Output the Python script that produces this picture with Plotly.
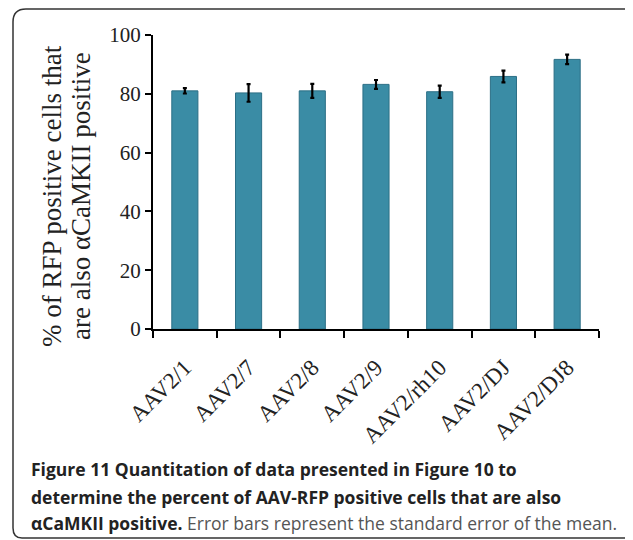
import plotly.graph_objects as go

categories = ["AAV2/1", "AAV2/7", "AAV2/8", "AAV2/9", "AAV2/rh10", "AAV2/DJ", "AAV2/DJ8"]
values = [81.0, 80.3, 81.0, 83.2, 80.7, 85.9, 91.7]
errors = [0.9, 3.0, 2.4, 1.5, 2.1, 2.0, 1.6]
y_ticks = [0, 20, 40, 60, 80, 100]

# page body has an 8px margin; figure is drawn at (8, 8)
OFF = 8
W, H = 633 - OFF, 540 - OFF
# plot area in page pixels: x 153..599, y 35..329
L, R, T, B = 153 - OFF, 633 - 599, 35 - OFF, 540 - 329
pw, ph = W - L - R, H - T - B

def px(x):
    return (x - OFF - L) / pw

def py(y):
    return (H - B - (y - OFF)) / ph

fig = go.Figure()
fig.add_trace(go.Bar(
    x=categories, y=values, width=0.41,
    marker=dict(color="#3A8CA5", line=dict(color="#2C6F86", width=1)),
    error_y=dict(type="data", array=errors, color="black", thickness=2.2, width=2),
    showlegend=False,
))

serif = "Liberation Serif"
fig.update_layout(
    width=W, height=H,
    margin=dict(l=L, r=R, t=T, b=B),
    paper_bgcolor="white", plot_bgcolor="white",
    xaxis=dict(
        range=[-0.5, 6.5], showline=True, linecolor="black", linewidth=2,
        ticks="outside", tickson="boundaries", ticklen=7, tickwidth=2, tickcolor="black",
        tickangle=-45, tickfont=dict(family=serif, size=23, color="#222"),
        ticklabelstandoff=14, ticklabelshift=0,
        showgrid=False, zeroline=False,
    ),
    yaxis=dict(
        range=[0, 100], tickvals=y_ticks, showline=True, linecolor="black", linewidth=2,
        ticks="outside", ticklen=6, tickwidth=2, tickcolor="black",
        tickfont=dict(family=serif, size=21, color="#222"),
        showgrid=False, zeroline=False,
    ),
)

# y-axis title as two rotated lines
fig.add_annotation(text="% of RFP positive cells that", xref="paper", yref="paper",
                   x=px(52), y=py(196), textangle=-90, showarrow=False,
                   xanchor="center", yanchor="middle",
                   font=dict(family=serif, size=27, color="#222"))
fig.add_annotation(text="are also αCaMKII positive", xref="paper", yref="paper",
                   x=px(81), y=py(196), textangle=-90, showarrow=False,
                   xanchor="center", yanchor="middle",
                   font=dict(family=serif, size=27, color="#222"))

# caption
cap_font = "Open Sans"
caption_lines = [
    "<b>Figure 11 Quantitation of data presented in Figure 10 to</b>",
    "<b>determine the percent of AAV-RFP positive cells that are also</b>",
    "<b>αCaMKII positive.</b> <span style='color:#555'>Error bars represent the standard error of the mean.</span>",
]
caption_y = [469, 497, 523]
for txt, yy in zip(caption_lines, caption_y):
    fig.add_annotation(text=txt, xref="paper", yref="paper", x=px(29), y=py(yy),
                       xanchor="left", yanchor="middle", showarrow=False,
                       font=dict(family=cap_font, size=17.5, color="#222"))

# rounded frame
def P(x, y):
    return f"{px(x):.5f},{py(y):.5f}"

path = (f"M {P(700, 9)} L {P(26, 9)} Q {P(13, 9)} {P(13, 22)} "
        f"L {P(13, 528)} Q {P(13, 538)} {P(22, 538)} L {P(700, 538)}")
fig.add_shape(type="path", path=path, xref="paper", yref="paper",
              line=dict(color="#333", width=1.5))

fig.write_html("out.html")
